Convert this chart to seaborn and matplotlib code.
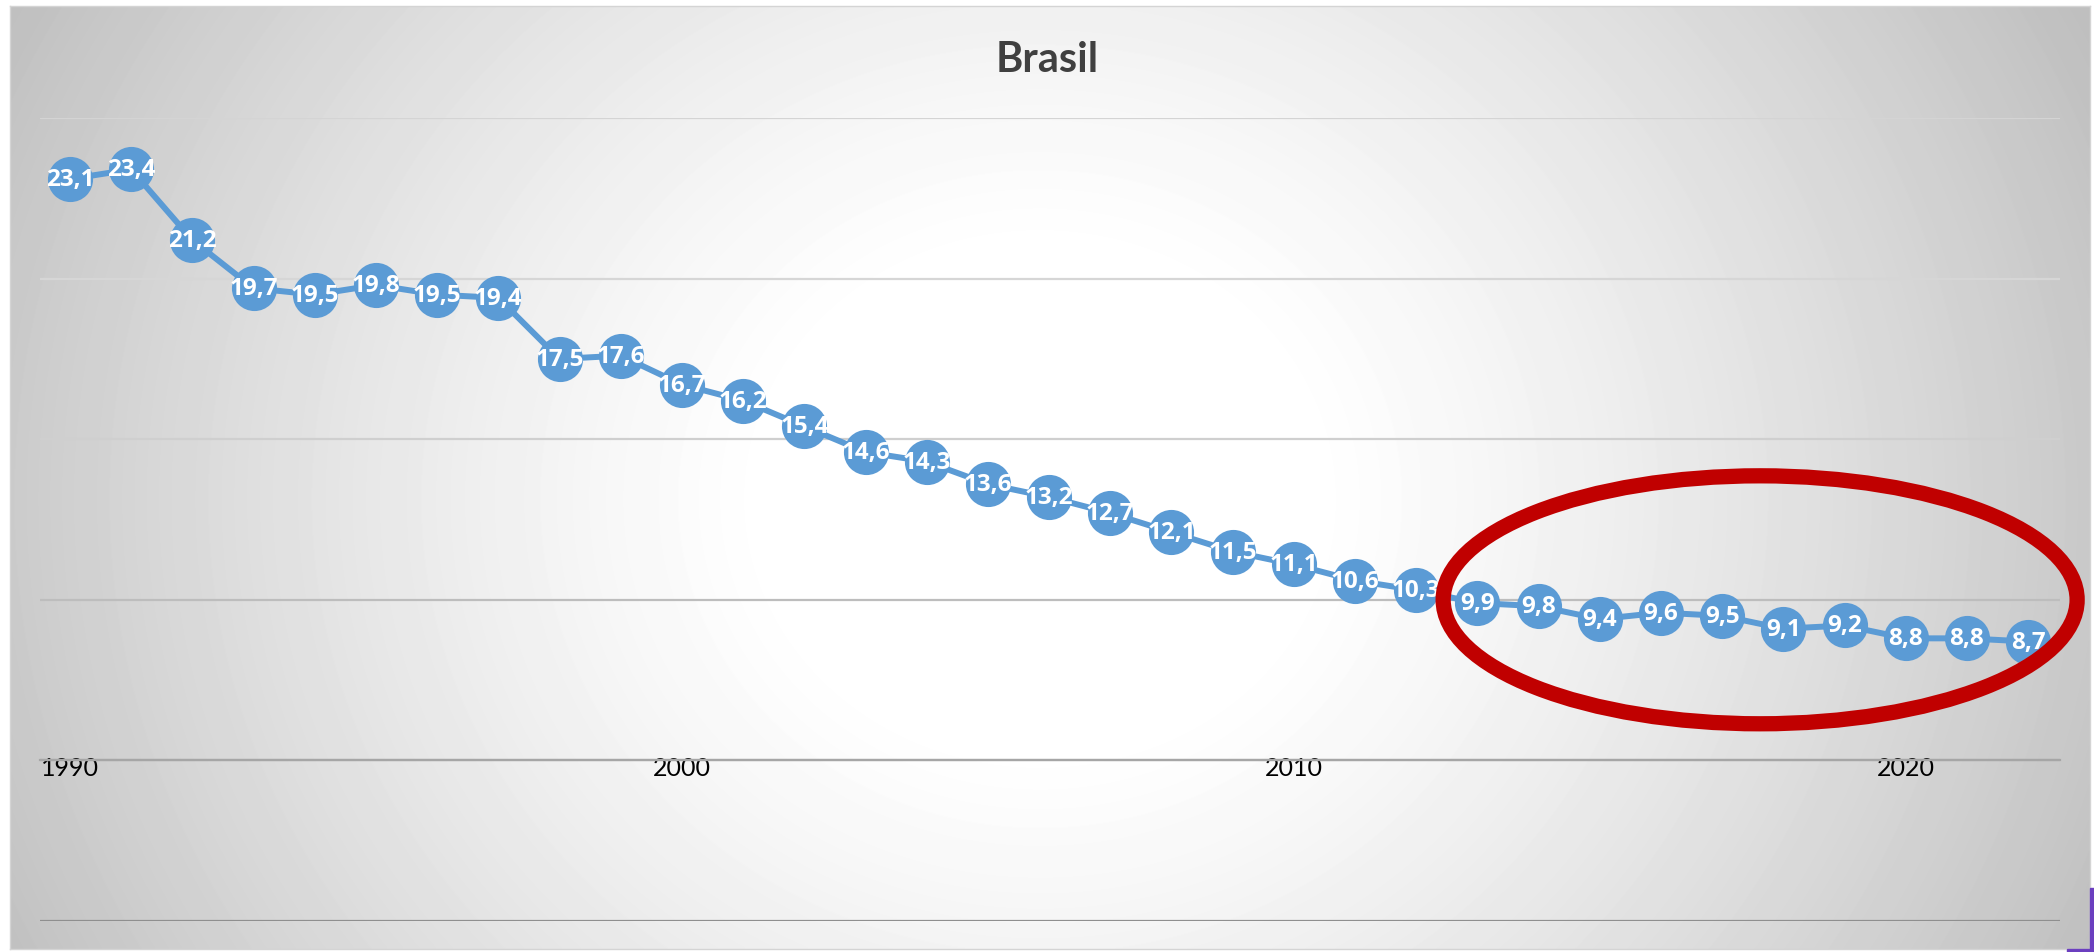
import numpy as np
import pandas as pd
import matplotlib
matplotlib.use("Agg")
import matplotlib.pyplot as plt
from matplotlib.patches import Ellipse, Rectangle
import seaborn as sns

# ---- data ----
years = list(range(1990, 2023))
values = [23.1, 23.4, 21.2, 19.7, 19.5, 19.8, 19.5, 19.4, 17.5, 17.6,
          16.7, 16.2, 15.4, 14.6, 14.3, 13.6, 13.2, 12.7, 12.1, 11.5,
          11.1, 10.6, 10.3, 9.9, 9.8, 9.4, 9.6, 9.5, 9.1, 9.2,
          8.8, 8.8, 8.7]
tick_years = [1990, 2000, 2010, 2020]
tick_labels = ["1990", "2000", "2010", "2020"]
y_grid = [0, 5, 10, 15, 20, 25]
title = "Brasil"

sns.set_style("white")
plt.rcParams['font.family'] = ['Lato', 'DejaVu Sans']

W, H = 2094, 953
fig = plt.figure(figsize=(W / 100, H / 100), dpi=100)
fig.patch.set_facecolor("white")

# ---- background radial gradient (chart area) ----
cx0, cy0, cx1, cy1 = 10, 7, 2090, 950
ax_bg = fig.add_axes([cx0 / W, 1 - cy1 / H, (cx1 - cx0) / W, (cy1 - cy0) / H], zorder=0)
ys, xs = np.mgrid[cy0:cy1, cx0:cx1]
d = np.sqrt(((xs - 1040) / 1100.0) ** 2 + ((ys - 500) / 1000.0) ** 2)
v = (255 - 64 * np.clip((d - 0.24) / 0.82, 0, 1) ** 1.25) / 255.0
ax_bg.imshow(v, cmap="gray", vmin=0, vmax=1, aspect="auto", interpolation="bilinear")
ax_bg.set_xticks([]); ax_bg.set_yticks([])
for s in ax_bg.spines.values():
    s.set_color("#d4d4d4"); s.set_linewidth(1)

# ---- main axes ----
ax = fig.add_axes([40 / W, 1 - 922 / H, 2020 / W, (922 - 119) / H], zorder=1)
ax.set_facecolor("none")
df = pd.DataFrame({"year": years, "value": values})

ax.set_xlim(1989.51, 2022.52)
ax.set_ylim(0, 25)
ax.set_yticks(y_grid)
ax.yaxis.grid(True)
grid_colors = {0: "#8f8f8f", 5: "#a6a6a6", 10: "#bdbdbd", 15: "#cfcfcf", 20: "#d6d6d6", 25: "#d4d4d4"}
for gl, val in zip(ax.yaxis.get_gridlines(), y_grid):
    gl.set_color(grid_colors[val]); gl.set_linewidth(1.6)
ax.tick_params(axis="y", left=False, labelleft=False)

sns.lineplot(data=df, x="year", y="value", ax=ax, color="#5B9BD5", linewidth=4.3,
             marker="o", markersize=32.5, markeredgewidth=0, zorder=3)

for x, y in zip(years, values):
    ax.text(x, y, f"{y:.1f}".replace(".", ","), ha="center", va="center",
            color="white", fontsize=17.5, fontweight="bold", zorder=4,
            family=["Open Sans", "DejaVu Sans"])

# x axis crossing at 5 (Excel style)
for s in ["top", "right", "left"]:
    ax.spines[s].set_visible(False)
ax.spines["bottom"].set_position(("data", 5))
ax.spines["bottom"].set_color("#a6a6a6")
ax.spines["bottom"].set_linewidth(1.6)
ax.set_xticks(tick_years)
ax.set_xticklabels(tick_labels)
ax.tick_params(axis="x", length=0, pad=-3, labelsize=18, labelcolor="black")
ax.set_xlabel(""); ax.set_ylabel("")

# red highlight ellipse
ell = Ellipse((2017.62, 10), width=10.36, height=7.72, fill=False,
              edgecolor="#C00000", linewidth=11, zorder=5, clip_on=False)
ax.add_patch(ell)

# title
fig.text(0.5, 1 - 60 / H, title, ha="center", va="center", fontsize=30,
         fontweight="bold", color="#404040")

# purple sliver bottom-right
fig.add_artist(Rectangle((2090 / W, 0), 4 / W, 64 / H, transform=fig.transFigure,
                         color="#6B3FBF", zorder=6))
fig.add_artist(Rectangle((2067 / W, 0), 27 / W, 3 / H, transform=fig.transFigure,
                         color="#6B3FBF", zorder=6))

fig.savefig("out.png", dpi=100)
